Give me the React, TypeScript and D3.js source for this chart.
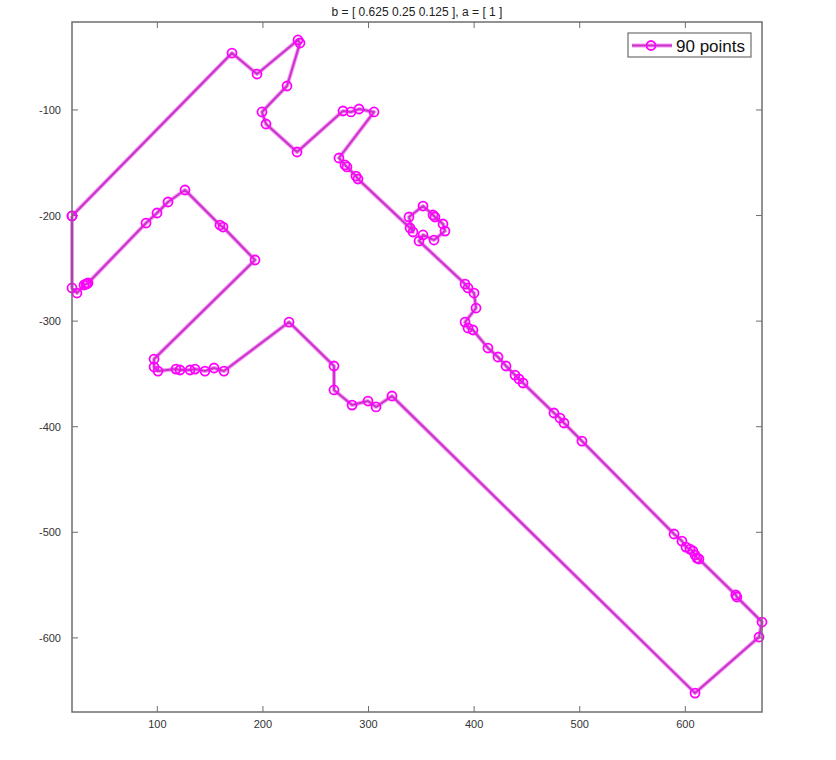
import React from "react";
import * as d3 from "d3";

const xs: number[] = [
  19.2, 170.7, 194.4, 233.2, 235.1, 222.8, 199.1, 202.9, 232.3, 275.8,
  283.4, 291.0, 305.2, 272.0, 277.7, 279.6, 288.1, 290.0, 339.3, 342.1,
  338.3, 351.6, 361.1, 362.9, 370.5, 372.4, 362.0, 351.6, 347.8, 391.4,
  394.2, 399.9, 401.8, 391.4, 394.2, 398.9, 413.1, 422.6, 430.2, 438.7,
  442.5, 446.3, 475.6, 481.3, 485.1, 502.1, 589.3, 596.8, 600.6, 604.4,
  607.2, 609.2, 611.0, 612.9, 647.8, 648.8, 672.6, 669.8, 609.2, 322.2,
  307.1, 299.5, 284.4, 267.3, 267.3, 224.7, 163.1, 153.7, 145.1, 135.7,
  131.0, 121.5, 117.7, 100.6, 96.9, 96.9, 192.5, 162.2, 159.3, 126.2,
  110.1, 99.7, 89.3, 34.4, 33.4, 32.5, 30.6, 23.9, 19.2, 19.2,
];
const ys: number[] = [
  -200.4, -46.1, -66.0, -33.7, -36.6, -77.3, -101.9, -113.3, -139.8, -101.0,
  -101.9, -99.1, -101.9, -145.5, -152.1, -154.0, -162.6, -165.4, -211.8, -215.6,
  -201.4, -191.0, -199.5, -201.4, -208.0, -214.7, -223.2, -218.4, -224.1, -264.9,
  -268.6, -273.4, -287.6, -300.9, -306.5, -308.4, -325.5, -334.0, -342.5, -351.1,
  -354.8, -358.6, -387.0, -391.8, -396.5, -413.6, -501.6, -508.3, -514.0, -515.9,
  -517.7, -521.5, -524.4, -525.3, -559.4, -561.3, -585.0, -599.2, -652.3, -370.9,
  -381.3, -375.7, -379.5, -365.2, -342.5, -300.9, -347.3, -344.4, -347.3, -345.4,
  -346.3, -346.3, -345.4, -347.3, -343.5, -335.9, -242.1, -210.9, -209.0, -175.8,
  -187.2, -197.6, -207.1, -263.9, -264.4, -264.9, -265.8, -273.4, -268.6, -200.4,
];
const xTicks: number[] = [100, 200, 300, 400, 500, 600];
const yTicks: number[] = [-100, -200, -300, -400, -500, -600];
const titleText = "b = [ 0.625 0.25 0.125 ], a = [ 1 ]";
const legendLabel = "90 points";

const X0 = 72, X1 = 762, Y0 = 22, Y1 = 712;
const MAG = "#ff00ff";
const LINE = "#c23ac2";
const AX = "#6e6e6e";
const FONT = "'Liberation Sans', Arial, sans-serif";

export default function App() {
  const x = d3.scaleLinear().domain([19.2, 672.6]).range([X0, X1]);
  const y = d3.scaleLinear().domain([-670.2, -16.7]).range([Y1, Y0]);
  const pts: [number, number][] = xs.map((v, i) => [v, ys[i]]);
  const line = d3
    .line<[number, number]>()
    .x((d) => x(d[0]))
    .y((d) => y(d[1]));
  const path = line(pts) || "";
  const tl = 6;

  return (
    <svg
      width={836}
      height={760}
      style={{ position: "absolute", left: 0, top: 0, background: "#fff" }}
      fontFamily={FONT}
    >
      <rect x={0} y={0} width={836} height={760} fill="#fff" />
      <text x={(X0 + X1) / 2} y={16} textAnchor="middle" fontSize={12} fill="#222">
        {titleText}
      </text>
      {xTicks.map((t) => (
        <g key={"xt" + t}>
          <line x1={x(t)} x2={x(t)} y1={Y1} y2={Y1 - tl} stroke={AX} strokeWidth={1} />
          <line x1={x(t)} x2={x(t)} y1={Y0} y2={Y0 + tl} stroke={AX} strokeWidth={1} />
          <text x={x(t)} y={728} textAnchor="middle" fontSize={11} fill="#333">
            {t}
          </text>
        </g>
      ))}
      {yTicks.map((t) => (
        <g key={"yt" + t}>
          <line x1={X0} x2={X0 + tl} y1={y(t)} y2={y(t)} stroke={AX} strokeWidth={1} />
          <line x1={X1} x2={X1 - tl} y1={y(t)} y2={y(t)} stroke={AX} strokeWidth={1} />
          <text x={61} y={y(t) + 4} textAnchor="end" fontSize={11} fill="#333">
            {t}
          </text>
        </g>
      ))}
      <path d={path} fill="none" stroke={MAG} strokeOpacity={0.45} strokeWidth={4} strokeLinejoin="round" />
      <path d={path} fill="none" stroke={LINE} strokeWidth={2} strokeLinejoin="round" />
      {pts.map((d, i) => (
        <circle key={i} cx={x(d[0])} cy={y(d[1])} r={4.5} fill="none" stroke={MAG} strokeWidth={1.8} />
      ))}
      <rect x={X0} y={Y0} width={X1 - X0} height={Y1 - Y0} fill="none" stroke={AX} strokeWidth={1.5} />
      <rect x={628} y={33} width={123} height={24} fill="#fff" stroke={AX} strokeWidth={1.2} />
      <line x1={632} x2={672} y1={45.5} y2={45.5} stroke={MAG} strokeOpacity={0.45} strokeWidth={4} />
      <line x1={632} x2={672} y1={45.5} y2={45.5} stroke={LINE} strokeWidth={2} />
      <circle cx={651} cy={45.5} r={4.5} fill="none" stroke={MAG} strokeWidth={1.8} />
      <text x={676} y={51.5} fontSize={17} fill="#111">
        {legendLabel}
      </text>
    </svg>
  );
}
